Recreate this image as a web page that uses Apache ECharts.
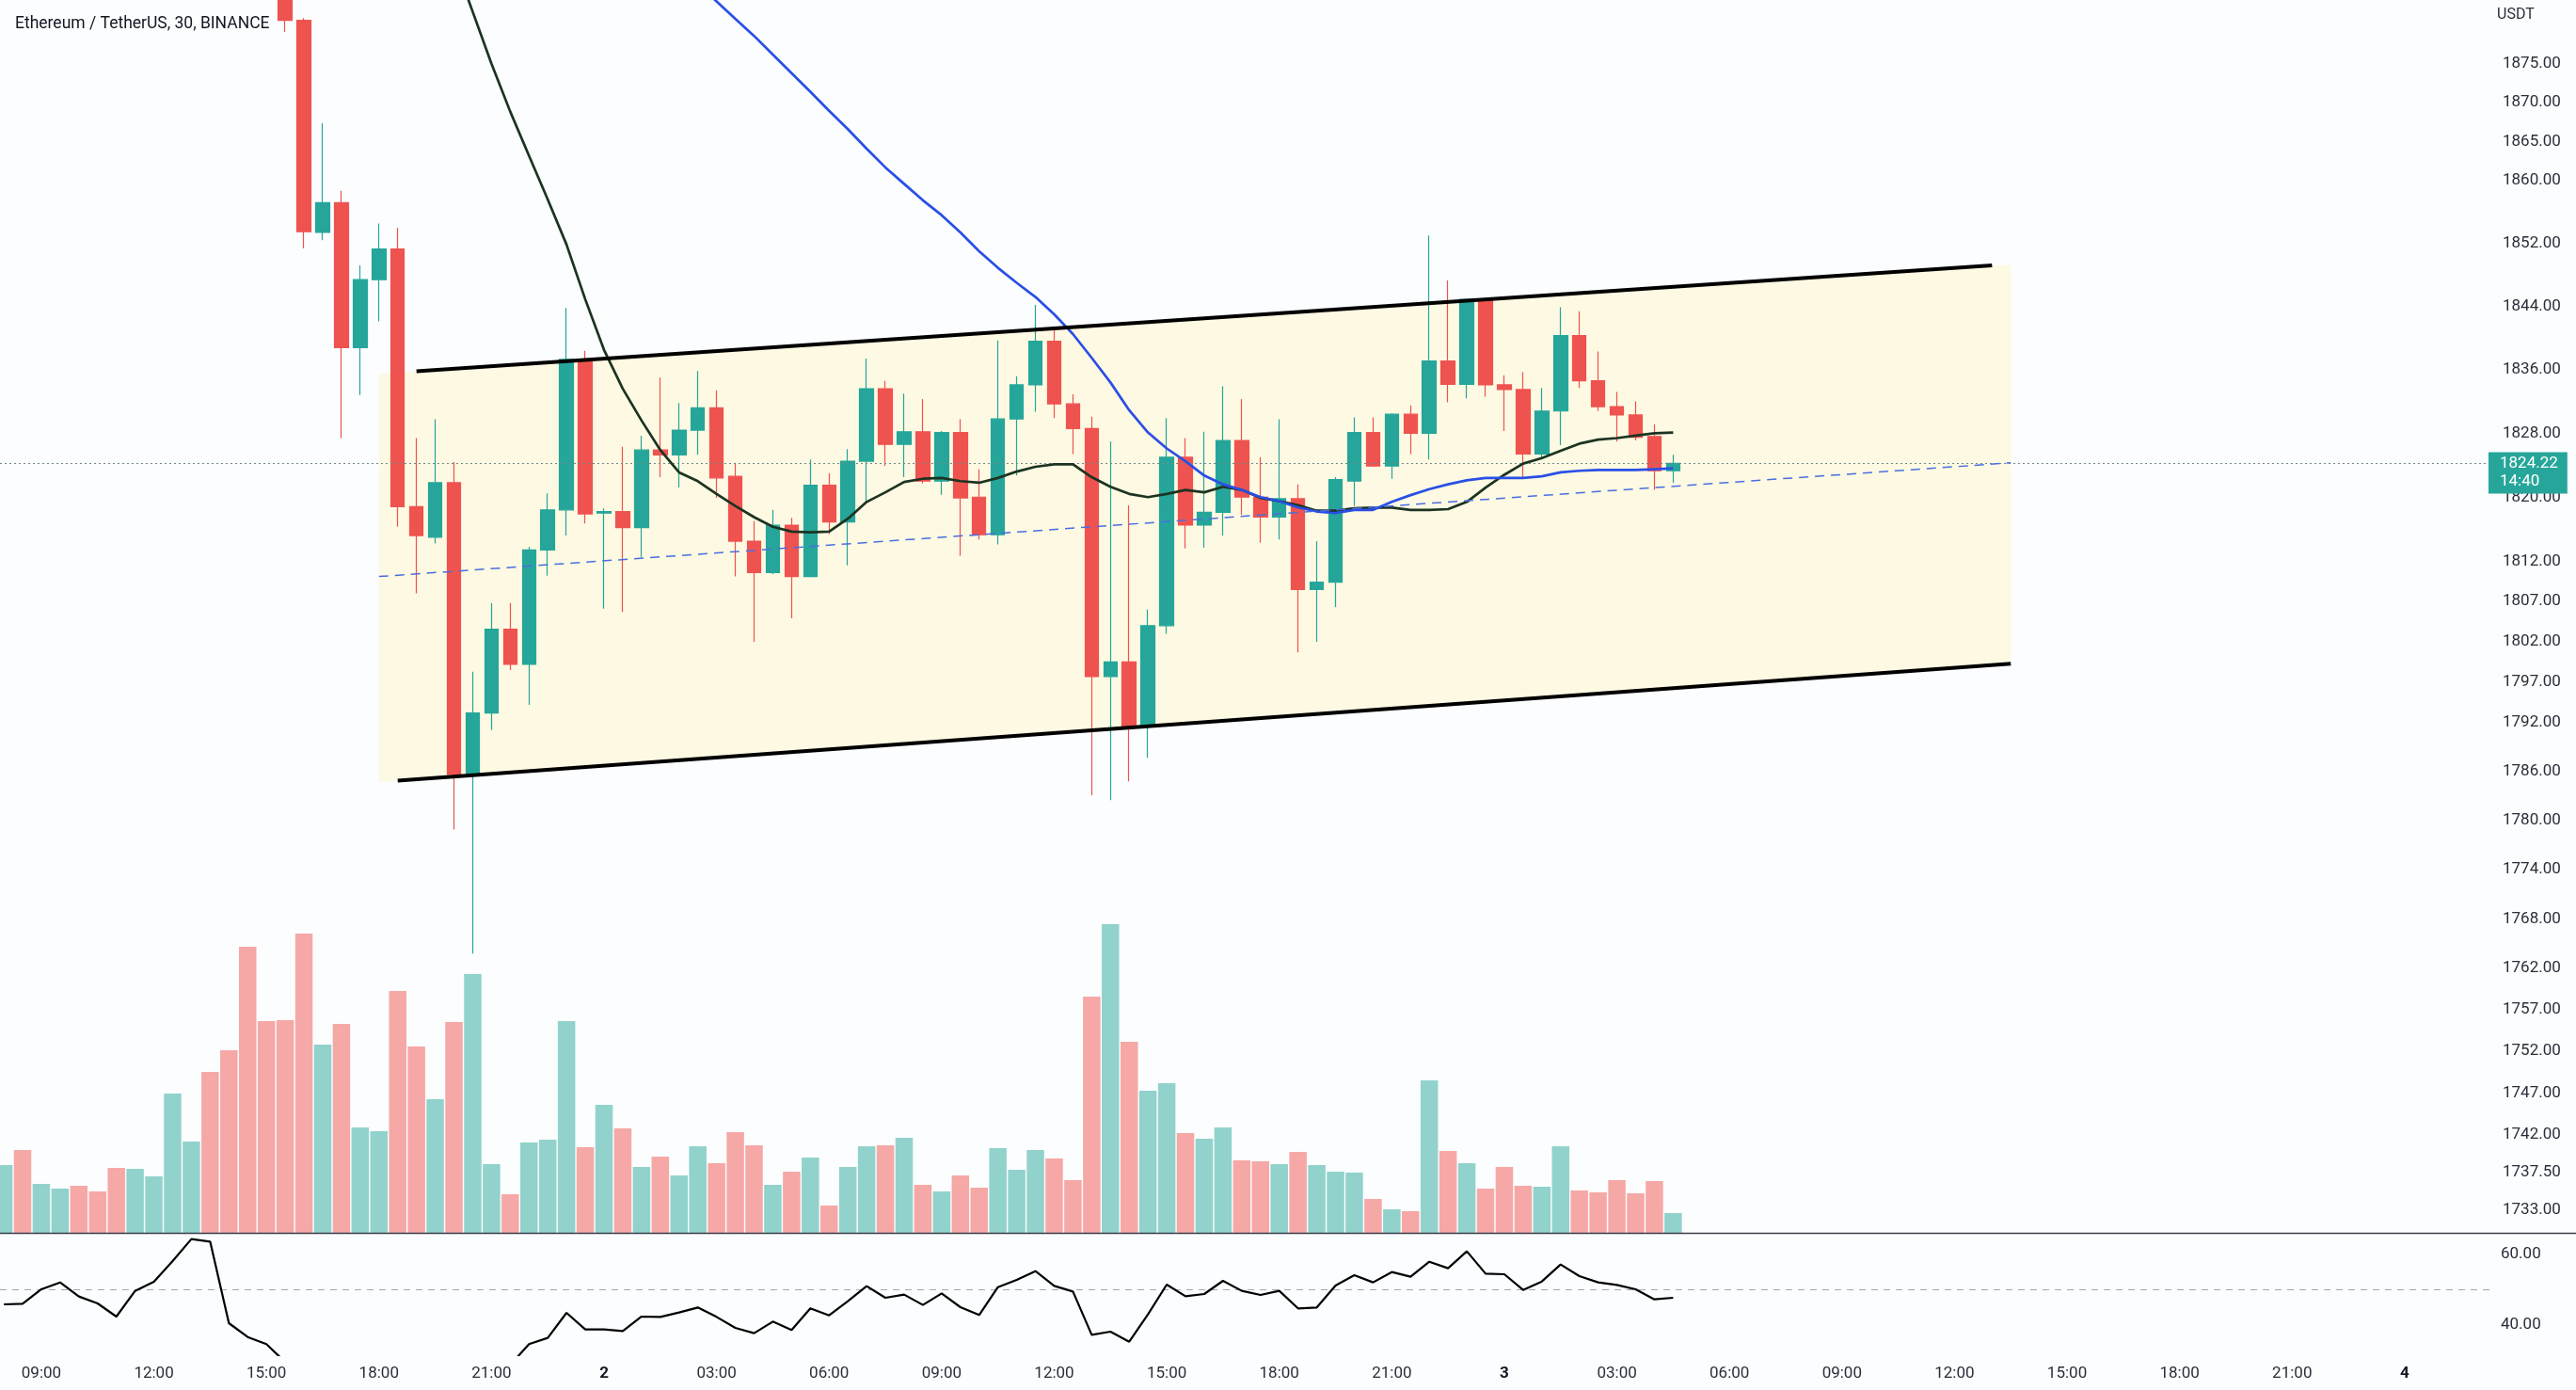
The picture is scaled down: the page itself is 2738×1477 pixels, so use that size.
<!DOCTYPE html>
<html><head><meta charset="utf-8">
<script src="https://cdn.jsdelivr.net/npm/echarts@6/dist/echarts.min.js"></script>
<style>html,body{margin:0;padding:0;background:#fbfdfe;}#c{width:2738px;height:1477px;}</style>
</head><body><div id="c"></div><script>
// ---- data ----
const firstBarHour = 8;      // hours since day-1 00:00 of first bar
const barStepHours = 0.5;    // 30-minute bars
const opens = [1905,1908,1903,1907,1910,1906,1902,1897,1901,1904,1912,1917,1910,1901,1893,1889,
 1880.6,1853.4,1857.2,1838.8,1847.4,1851.3,1818.8,1815.0,1821.8,1785.65,1793.2,1803.55,1799.2,1813.4,1818.4,1837.3,
 1818.0,1818.2,1816.2,1825.9,1825.3,1828.4,1831.2,1822.6,1814.5,1810.6,1816.5,1810.1,1821.5,1816.9,1824.5,1833.6,
 1826.6,1828.2,1822.0,1828.1,1820.0,1815.3,1829.8,1834.1,1839.6,1831.7,1828.6,1797.7,1799.5,1791.5,1804.0,1825.0,
 1816.5,1818.1,1827.1,1820.0,1817.5,1819.8,1808.5,1809.4,1822.0,1828.1,1823.9,1830.4,1828.0,1837.1,1834.15,1844.9,
 1834.1,1833.5,1825.4,1830.8,1840.3,1834.6,1831.35,1830.3,1827.6,1823.3];
const closes = [1908,1903,1907,1910,1906,1902,1897,1901,1904,1912,1917,1910,1901,1893,1889,1880.6,
 1853.5,1857.2,1838.8,1847.4,1851.3,1818.8,1815.2,1821.8,1785.65,1793.2,1803.55,1799.2,1813.4,1818.4,1837.3,1817.9,
 1818.2,1816.2,1825.9,1825.3,1828.4,1831.2,1822.4,1814.5,1810.6,1816.5,1810.1,1821.5,1816.9,1824.5,1833.6,1826.6,
 1828.2,1822.0,1828.1,1819.9,1815.3,1829.8,1834.1,1839.6,1831.7,1828.6,1797.7,1799.5,1791.5,1804.0,1825.0,1816.5,
 1818.1,1827.1,1820.0,1817.5,1819.8,1808.5,1809.4,1822.2,1828.1,1823.9,1830.4,1828.0,1837.1,1834.15,1844.9,1834.1,
 1833.5,1825.4,1830.8,1840.3,1834.6,1831.35,1830.3,1827.5,1823.3,1824.22];
const lows = [1902,1901,1901,1905,1904,1900,1895,1896,1899,1903,1910,1908,1899,1889,1886,1879.1,
 1851.4,1852.4,1827.4,1832.8,1842.1,1816.3,1808.0,1814.2,1778.9,1763.8,1791.1,1798.5,1794.2,1810.2,1815.2,1816.7,
 1806.1,1805.7,1812.5,1822.5,1821.2,1825.3,1819.9,1810.1,1802.0,1810.4,1804.9,1810.0,1815.4,1811.5,1819.5,1823.9,
 1822.5,1821.7,1820.3,1812.7,1814.7,1814.1,1822.7,1830.7,1829.9,1825.4,1783.1,1782.5,1784.8,1787.7,1803.0,1813.6,
 1813.7,1815.2,1817.8,1814.3,1814.7,1800.7,1802.0,1806.3,1818.9,1823.8,1822.3,1825.4,1824.7,1831.9,1832.4,1832.6,
 1828.3,1822.4,1824.7,1826.5,1833.7,1830.8,1826.96,1827.1,1820.9,1821.8];
const highs = [1911,1910,1909,1912,1912,1908,1904,1903,1906,1914,1919,1920,1912,1903,1896,1891,
 1880.9,1867.4,1858.7,1849.2,1854.55,1854.0,1827.4,1829.75,1824.4,1798.3,1806.8,1806.8,1813.8,1820.46,1843.8,1838.4,
 1818.6,1826.3,1827.7,1835.0,1831.8,1835.85,1833.4,1824.3,1817.0,1818.4,1817.4,1824.7,1823.0,1826.0,1837.4,1834.6,
 1833.0,1832.3,1828.3,1829.75,1823.5,1839.7,1835.2,1844.2,1841.2,1832.9,1830.1,1826.96,1818.96,1806.0,1829.9,1827.4,
 1828.2,1833.9,1832.3,1825.0,1829.75,1821.6,1814.5,1822.5,1830.0,1830.0,1830.5,1831.5,1853.0,1847.3,1845.0,1845.0,
 1835.3,1835.7,1833.7,1843.9,1843.4,1838.3,1833.2,1832.0,1829.1,1825.3];
const volumes = [7200,8800,5200,4700,5000,4400,6900,6800,6000,14800,9700,17100,19400,30400,22500,22600,
 31800,20000,22200,11200,10800,25700,19800,14200,22400,27500,7300,4100,9600,9900,22500,9100,
 13600,11100,7000,8100,6100,9200,7400,10700,9300,5100,6500,8000,2900,7000,9200,9300,
 10100,5100,4400,6100,4800,9000,6700,8800,7900,5600,25100,32800,20300,15100,15900,10600,
 10000,11200,7700,7600,7300,8600,7200,6500,6400,3600,2500,2300,16200,8700,7400,4700,
 7000,5000,4900,9200,4500,4300,5600,4200,5500,2100];
const rsi = [45.76,45.93,50.0,51.94,47.97,46.02,42.31,49.56,52.12,57.96,
 64.15,63.44,40.45,36.56,34.53,29.5,22,25,20,24,
 27,19,18,23,16,21,26,28.7,34.53,36.30,
 43.37,38.68,38.68,38.24,42.31,42.22,43.46,44.87,42.22,39.12,
 37.62,40.89,38.51,44.61,42.66,46.64,50.88,47.61,48.50,45.58,
 48.85,44.96,42.75,50.62,52.65,55.13,50.97,49.38,37.18,38.06,
 35.23,42.93,51.33,48.05,48.67,52.39,49.56,48.41,49.56,44.61,
 44.87,51.06,53.98,51.95,54.86,53.54,57.78,55.93,60.70,54.42,
 54.24,49.82,52.21,56.98,53.71,51.95,51.24,50.0,47.17,47.61];
const maFast = Array(22).fill(null).concat([
 1901,1894.9,1888.4,1881.7,1875.0,1868.85,1863.2,1857.6,1851.86,1844.9,
 1838.5,1833.6,1829.6,1825.9,1823.1,1822.0,1820.4,1818.9,1817.5,1816.3,
 1815.7,1815.6,1815.7,1817.3,1819.4,1820.6,1821.9,1822.3,1822.4,1822.0,
 1821.8,1822.4,1823.2,1823.8,1824.1,1824.1,1822.5,1821.3,1820.4,1820.0,
 1820.4,1820.9,1820.6,1821.3,1820.9,1819.9,1819.5,1819.0,1818.3,1818.3,
 1818.6,1818.7,1818.7,1818.4,1818.4,1818.5,1819.4,1821.2,1822.8,1824.2,
 1824.9,1825.8,1826.7,1827.2,1827.4,1827.7,1828.0,1828.1]);
const maSlow = Array(35).fill(null).concat([
 1889.6,1887.5,1885.3,1883.06,1880.8,
 1878.6,1876.2,1873.8,1871.4,1868.95,1866.6,1864.1,1861.7,1859.6,1857.5,
 1855.6,1853.4,1851.0,1848.9,1847.0,1845.2,1843.0,1840.5,1837.5,1834.4,
 1830.9,1828.1,1826.1,1824.5,1822.7,1821.6,1820.9,1820.0,1819.5,1818.7,
 1818.2,1818.0,1818.4,1818.4,1819.4,1820.25,1821.0,1821.6,1822.1,1822.4,
 1822.4,1822.4,1822.6,1823.1,1823.3,1823.4,1823.4,1823.4,1823.5,1823.6]);
const priceTicks = [1875,1870,1865,1860,1852,1844,1836,1828,1820,1812,1807,1802,1797,1792,1786,1780,1774,1768,1762,1757,1752,1747,1742,1737.5,1733];
const rsiTicks = [40, 60];
const rsiMidValue = 50;
const timeTicks = [9,12,15,18,21,24,27,30,33,36,39,42,45,48,51,54,57,60,63,66,69,72];
const lastPrice = 1824.22;
const countdownText = '14:40';
const titleText = 'Ethereum / TetherUS, 30, BINANCE';
const currencyText = 'USDT';
// channel drawing: [hour, price]
const channelUpper = [[19.0, 1835.8], [61.0, 1849.2]];
const channelLower = [[18.5, 1784.9], [61.5, 1799.3]];
const channelMid = [[18.0, 1810.1], [61.5, 1824.3]];
const channelFill = [[18.0, 1835.5], [61.5, 1849.3], [61.5, 1799.3], [18.0, 1784.74]];
// axis extents
const xMin = 7.898, xMax = 74.26;
const priceMin = 1730.4, priceMax = 1883.24;
const volMax = 40100;
const rsiMin = 31.43, rsiMax = 65.65;

// ---- chart ----
const UP = '#26a69a', DOWN = '#ef5350', UPV = '#92d2cc', DOWNV = '#f6a8a6';
const TXT = '#2a2e39';
const font = 'Roboto, "Noto Sans", sans-serif';
const hours = opens.map((_, i) => firstBarHour + i * barStepHours);
const candleData = hours.map((h, i) => [h, opens[i], closes[i], lows[i], highs[i]]);
const volData = hours.map((h, i) => ({ value: [h, volumes[i]], itemStyle: { color: closes[i] >= opens[i] ? UPV : DOWNV } }));
const zip = arr => hours.map((h, i) => [h, arr[i]]);
const pad = n => (n < 10 ? '0' : '') + n;

const chart = echarts.init(document.getElementById('c'));
const xBase = { type: 'value', min: xMin, max: xMax, axisLine: { show: false }, axisTick: { show: false }, splitLine: { show: false }, axisLabel: { show: false } };
const option = {
  backgroundColor: '#fbfdfe',
  animation: false,
  textStyle: { fontFamily: font },
  title: { text: titleText, left: 11, top: 12, textStyle: { fontSize: 17.5, fontWeight: 'normal', color: '#131722', fontFamily: font } },
  grid: [
    { left: 0, right: 92, top: 0, height: 1309 },
    { left: 0, right: 92, top: 909, height: 401 },
    { left: 0, right: 92, top: 1311, height: 129 }
  ],
  xAxis: [
    Object.assign({}, xBase, { gridIndex: 0 }),
    Object.assign({}, xBase, { gridIndex: 1 }),
    Object.assign({}, xBase, { gridIndex: 2, axisLabel: {
      show: true, customValues: timeTicks, margin: 11, fontSize: 17, color: TXT, fontFamily: font,
      formatter: v => (v % 24 === 0 ? '{b|' + (v / 24 + 1) + '}' : pad(v % 24) + ':00'),
      rich: { b: { fontWeight: 'bold', fontSize: 17, color: '#131722', fontFamily: font } }
    } })
  ],
  yAxis: [
    { type: 'log', gridIndex: 0, position: 'right', min: priceMin, max: priceMax,
      axisLine: { show: false }, axisTick: { show: false }, splitLine: { show: false },
      axisLabel: { customValues: priceTicks, margin: 14, fontSize: 17, color: TXT, fontFamily: font, formatter: v => Number(v).toFixed(2) },
      name: currencyText, nameLocation: 'end', nameGap: -16,
      nameTextStyle: { fontSize: 16, color: TXT, align: 'left', verticalAlign: 'middle', padding: [0, 0, 0, 8], fontFamily: font } },
    { type: 'value', gridIndex: 1, min: 0, max: volMax, show: false },
    { type: 'value', gridIndex: 2, position: 'right', min: rsiMin, max: rsiMax,
      axisLine: { show: false }, axisTick: { show: false }, splitLine: { show: false },
      axisLabel: { customValues: rsiTicks, margin: 12, fontSize: 17, color: TXT, fontFamily: font, formatter: v => Number(v).toFixed(2) } }
  ],
  graphic: [
    { type: 'line', shape: { x1: 0, y1: 1310.5, x2: 2738, y2: 1310.5 }, style: { stroke: '#3b3f4a', lineWidth: 1.5 }, z: 50 }
  ],
  series: [
    { type: 'bar', name: 'Volume', xAxisIndex: 1, yAxisIndex: 1, barWidth: 18.5, data: volData, z: 1 },
    { type: 'custom', name: 'Channel fill', xAxisIndex: 0, yAxisIndex: 0, z: 1, silent: true,
      data: [channelFill[0]],
      renderItem: (params, api) => ({ type: 'polygon', shape: { points: channelFill.map(p => api.coord(p)) }, style: { fill: '#fdf9e2' } }) },
    { type: 'candlestick', name: 'ETHUSDT', xAxisIndex: 0, yAxisIndex: 0, clip: true, z: 3,
      encode: { x: 0, y: [1, 2, 3, 4] }, barWidth: 15, data: candleData,
      itemStyle: { color: UP, color0: DOWN, borderColor: UP, borderColor0: DOWN, borderWidth: 1.2 },
      markLine: { silent: true, symbol: ['none', 'none'], data: [{ yAxis: lastPrice }],
        lineStyle: { type: [2, 3], color: '#6f8a86', width: 1 },
        label: { show: true, position: 'end', distance: -1, formatter: lastPrice.toFixed(2) + '\n' + countdownText,
          color: '#ffffff', backgroundColor: UP, padding: [3, 10, 3, 12], fontSize: 17, lineHeight: 19, offset: [0, 10], fontFamily: font } } },
    { type: 'line', name: 'MA fast', xAxisIndex: 0, yAxisIndex: 0, data: zip(maFast), showSymbol: false, symbol: 'none', clip: true, z: 5,
      lineStyle: { color: '#1c3321', width: 2.7 } },
    { type: 'line', name: 'MA slow', xAxisIndex: 0, yAxisIndex: 0, data: zip(maSlow), showSymbol: false, symbol: 'none', clip: true, z: 5,
      lineStyle: { color: '#2a4fe6', width: 2.7 } },
    { type: 'line', name: 'Channel mid', xAxisIndex: 0, yAxisIndex: 0, data: channelMid, symbol: 'none', z: 6,
      lineStyle: { color: '#4a6ee0', width: 1.5, type: [10, 7] } },
    { type: 'line', name: 'Channel upper', xAxisIndex: 0, yAxisIndex: 0, data: channelUpper, symbol: 'none', z: 6,
      lineStyle: { color: '#000000', width: 4 } },
    { type: 'line', name: 'Channel lower', xAxisIndex: 0, yAxisIndex: 0, data: channelLower, symbol: 'none', z: 6,
      lineStyle: { color: '#000000', width: 4 } },
    { type: 'line', name: 'RSI', xAxisIndex: 2, yAxisIndex: 2, data: zip(rsi), symbol: 'none', clip: true, z: 5,
      lineStyle: { color: '#000000', width: 2.2 },
      markLine: { silent: true, symbol: ['none', 'none'], data: [{ yAxis: rsiMidValue }], label: { show: false },
        lineStyle: { type: [7, 6], color: '#a3a7b0', width: 1 } } }
  ]
};
chart.setOption(option);
</script></body></html>
